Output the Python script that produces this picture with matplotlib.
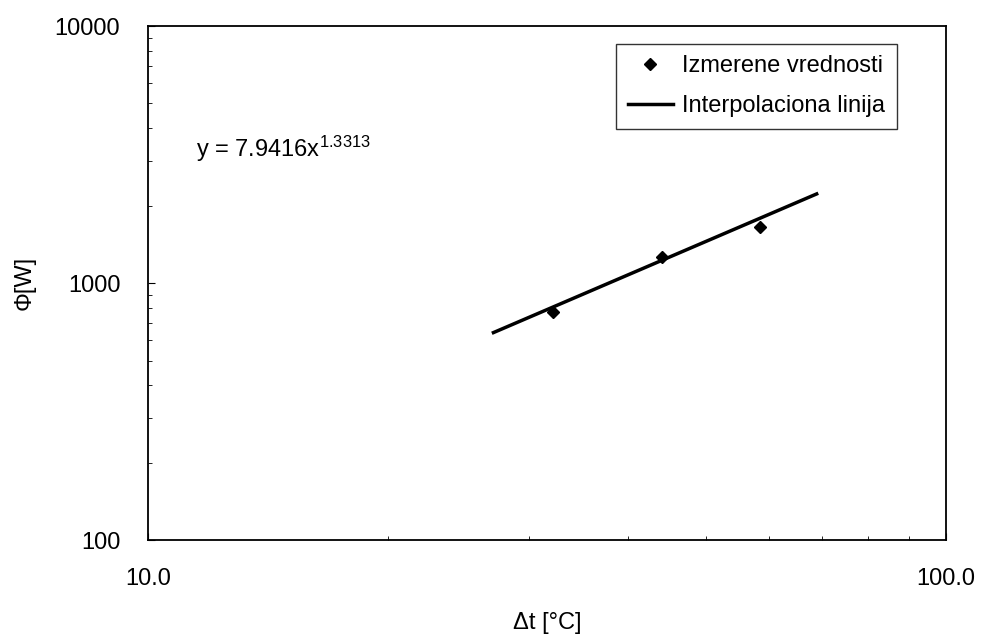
import numpy as np
import matplotlib.pyplot as plt
from matplotlib.ticker import FixedLocator, NullFormatter

plt.rcParams['font.family'] = ['Liberation Sans', 'DejaVu Sans']
plt.rcParams['mathtext.fontset'] = 'custom'
plt.rcParams['mathtext.rm'] = 'Liberation Sans'
plt.rcParams['mathtext.it'] = 'Liberation Sans'

# measured values
dt = [32.2, 44.1, 58.5]
phi = [775, 1260, 1650]

# fit y = a * x^b
a = 7.9416
b = 1.3313
fit_x = np.array([27.1, 68.9])
fit_y = a * fit_x ** b

fig = plt.figure(figsize=(9.81, 6.37), dpi=100)
ax = fig.add_axes([0.151, 0.152, 0.813, 0.807])

ax.plot(fit_x, fit_y, color='black', lw=2.5, label='Interpolaciona linija', zorder=2)
ax.plot(dt, phi, 'D', color='black', ms=6, label='Izmerene vrednosti', zorder=3)

ax.set_xscale('log')
ax.set_yscale('log')
ax.set_xlim(10, 100)
ax.set_ylim(100, 10000)

fs = 17
ax.xaxis.set_major_locator(FixedLocator([10, 100]))
ax.set_xticklabels(['10.0', '100.0'], fontsize=fs)
ax.yaxis.set_major_locator(FixedLocator([100, 1000, 10000]))
ax.set_yticklabels(['100', '1000', '10000'], fontsize=fs)
ax.xaxis.set_minor_locator(FixedLocator(np.arange(20, 100, 10)))
ax.yaxis.set_minor_locator(FixedLocator(list(np.arange(200, 1000, 100)) + list(np.arange(2000, 10000, 1000))))
ax.xaxis.set_minor_formatter(NullFormatter())
ax.yaxis.set_minor_formatter(NullFormatter())
ax.tick_params(which='both', direction='in')
ax.tick_params(which='major', length=5)
ax.tick_params(which='minor', length=3)
ax.tick_params(axis='x', pad=20)
ax.tick_params(axis='y', pad=20)

for s in ax.spines.values():
    s.set_linewidth(1.3)

ax.set_xlabel('Δt [°C]', fontsize=fs, labelpad=16)
ax.set_ylabel('Φ[W]', fontsize=fs, labelpad=14)

ax.text(0.06, 0.745, 'y = 7.9416x$^{\\mathrm{1.3313}}$', transform=ax.transAxes,
        fontsize=fs, va='baseline')

h, l = ax.get_legend_handles_labels()
leg = ax.legend(h[::-1], l[::-1], loc='upper right', bbox_to_anchor=(0.939, 0.966),
                fontsize=fs, frameon=True, fancybox=False, edgecolor='black',
                handlelength=1.9, handletextpad=0.4, borderpad=0.5, labelspacing=0.75,
                borderaxespad=0.0)
leg.get_frame().set_linewidth(1.0)

fig.savefig('out.png', dpi=100)
